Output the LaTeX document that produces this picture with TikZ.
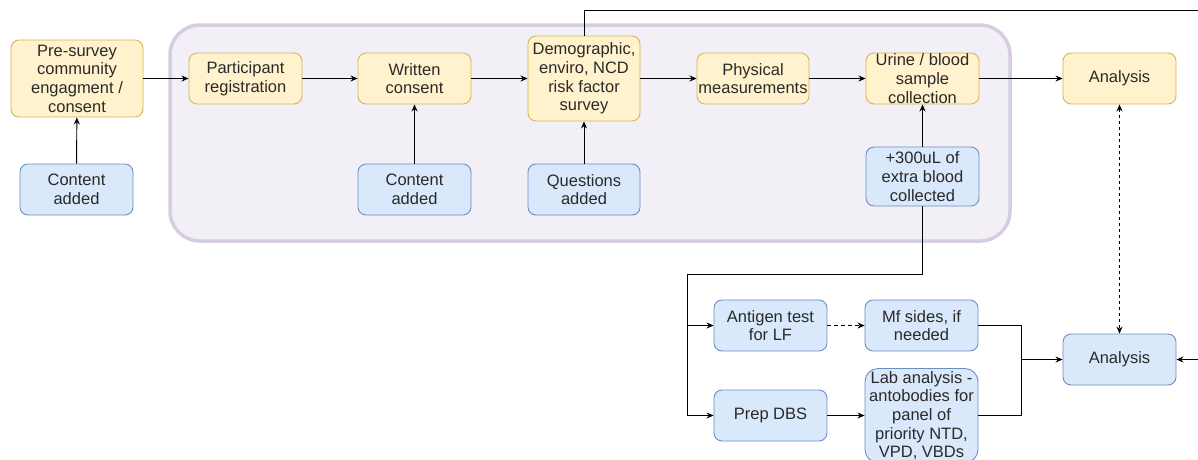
\documentclass[tikz,border=0pt]{standalone}
\usepackage{fontspec}
\setmainfont{Liberation Sans}
\usetikzlibrary{arrows.meta}
\definecolor{yfill}{HTML}{FFF2CC}
\definecolor{ydraw}{HTML}{D6B656}
\definecolor{bfill}{HTML}{DAE8FC}
\definecolor{bdraw}{HTML}{6C8EBF}
\definecolor{cfill}{HTML}{F3EFF6}
\definecolor{cdraw}{HTML}{D8CCE3}
\definecolor{txt}{HTML}{2A2A2A}
\tikzset{
  box/.style={rounded corners=8pt, line width=0.9pt, inner sep=0pt, align=center,
    text=txt, font=\fontsize{16.5}{18.7}\selectfont},
  ybox/.style={box, fill=yfill, draw=ydraw},
  bbox/.style={box, fill=bfill, draw=bdraw},
  conn/.style={line width=0.95pt, -{Stealth[length=7pt,width=6pt]}},
  plain/.style={line width=0.95pt},
}
\begin{document}
\begin{tikzpicture}[x=1pt,y=-1pt]
\useasboundingbox (0,0) rectangle (1198,459);
\clip (0,0) rectangle (1198,459);
\fill[white] (0,0) rectangle (1198,459);
% container
\draw[line width=3.5pt, draw=cdraw, fill=cfill, rounded corners=30pt] (170,25) rectangle (1010,241);
% top row
\node[ybox, minimum width=132pt, minimum height=77pt] (pre) at (77,78.5) {Pre-survey\\community\\engagment /\\consent};
\node[ybox, minimum width=113pt, minimum height=51pt] (part) at (245.5,78.5) {Participant\\registration};
\node[ybox, minimum width=113pt, minimum height=51pt] (writ) at (414.5,78.5) {Written\\consent};
\node[ybox, minimum width=112pt, minimum height=85pt] (demo) at (584,78.5) {Demographic,\\enviro, NCD\\risk factor\\survey};
\node[ybox, minimum width=112pt, minimum height=51pt] (phys) at (753,78.5) {Physical\\measurements};
\node[ybox, minimum width=113pt, minimum height=51pt] (urine) at (922.5,78.5) {Urine / blood\\sample\\collection};
\node[ybox, minimum width=113pt, minimum height=51pt] (anaT) at (1119.5,78.5) {Analysis};
% second row
\node[bbox, minimum width=113pt, minimum height=51pt] (cont1) at (76.5,189.5) {Content\\added};
\node[bbox, minimum width=113pt, minimum height=51pt] (cont2) at (414.5,189.5) {Content\\added};
\node[bbox, minimum width=112pt, minimum height=51pt] (ques) at (584,189.5) {Questions\\added};
\node[bbox, minimum width=113pt, minimum height=59pt] (extra) at (922.5,176.5) {+300uL of\\extra blood\\collected};
% lower part
\node[bbox, minimum width=113pt, minimum height=51pt] (anti) at (770.5,325.5) {Antigen test\\for LF};
\node[bbox, minimum width=113pt, minimum height=51pt] (mf) at (921.5,325.5) {Mf sides, if\\needed};
\node[bbox, minimum width=113pt, minimum height=51pt] (prep) at (770.5,415.5) {Prep DBS};
\node[bbox, minimum width=113pt, minimum height=94pt, rounded corners=13pt] (lab) at (921.5,415.5) {Lab analysis -\\antobodies for\\panel of\\priority NTD,\\VPD, VBDs};
\node[bbox, minimum width=113pt, minimum height=51pt] (anaB) at (1119.5,359.5) {Analysis};
% connectors top row
\draw[conn] (pre) -- (part);
\draw[conn] (part) -- (writ);
\draw[conn] (writ) -- (demo);
\draw[conn] (demo) -- (phys);
\draw[conn] (phys) -- (urine);
\draw[conn] (urine) -- (anaT);
% upward
\draw[conn] (cont1) -- (pre);
\draw[conn] (cont2) -- (writ);
\draw[conn] (ques) -- (demo);
\draw[conn] (extra) -- (urine);
% extra blood branch
\coordinate (j) at (687,274);
\draw[plain] (extra.south) |- (j);
\draw[conn] (j) |- (anti.west);
\draw[conn] (j) |- (prep.west);
\draw[conn, dash pattern=on 4pt off 3pt] (anti) -- (mf);
\draw[conn] (prep) -- (lab);
\coordinate (m) at (1021,359.5);
\draw[plain] (mf.east) -| (m);
\draw[plain] (lab.east) -| (m);
\draw[conn] (m) -- (anaB.west);
% dotted double arrow
\draw[line width=0.95pt, dash pattern=on 3pt off 3pt, {Stealth[length=7pt,width=6pt]}-{Stealth[length=7pt,width=6pt]}] (anaT.south) -- (anaB.north);
% long connector over the top
\coordinate (tr) at (1215,10);
\draw[conn] (demo.north) |- (tr) |- (anaB.east);
\end{tikzpicture}
\end{document}
